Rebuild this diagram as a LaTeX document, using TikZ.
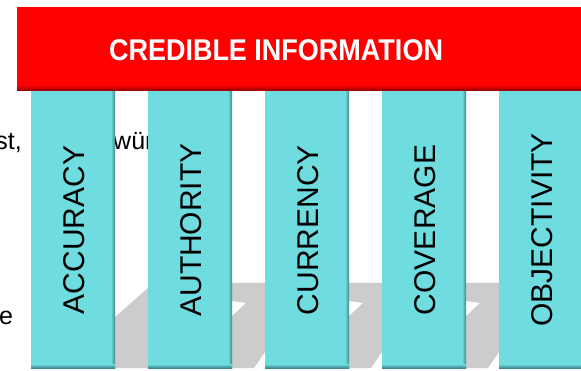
\documentclass[tikz,border=0pt]{standalone}
\usepackage{fontspec}
\setmainfont{Liberation Sans}
\definecolor{bannerred}{RGB}{255,0,0}
\definecolor{pillarcyan}{RGB}{111,220,224}
\definecolor{pillaredge}{RGB}{60,135,140}
\definecolor{shadowgray}{RGB}{204,204,204}
\tikzset{
    pillar/.style={fill=pillarcyan},
    pillarlabel/.style={rotate=90, text=black, font=\fontsize{30}{36}\selectfont},
    backtext/.style={text=black, font=\fontsize{25}{30}\selectfont, inner sep=0pt},
}
\begin{document}
\begin{tikzpicture}[x=1pt, y=-1pt]

    \useasboundingbox (0,0) rectangle (581,371);
    \fill[white] (0,0) rectangle (581,371);

    % slide text behind the pillars
    \node[backtext, anchor=base east] (st) at (22,150) {st,};
    \node[backtext, anchor=base west] (wuer) at (113,150) {wür};
    \node[backtext, anchor=base west] (e) at (-1,325) {e};

    % shadows on the floor
    \fill[shadowgray] (115,317) -- (148,288) -- (148,368) -- (115,368) -- cycle;
    \fill[shadowgray] (232,283) -- (265,283) -- (265,352) -- (254,368) -- (232,368) -- (232,316) -- (246,303) -- (232,301) -- cycle;
    \fill[shadowgray] (349,283) -- (382,283) -- (382,352) -- (371,368) -- (349,368) -- (349,316) -- (363,303) -- (349,301) -- cycle;
    \fill[shadowgray] (466,283) -- (499,283) -- (499,352) -- (488,368) -- (466,368) -- (466,316) -- (480,303) -- (466,301) -- cycle;

    % pillars
    \fill[pillar] (31,91) rectangle (115,368);
    \fill[pillar] (148,91) rectangle (232,368);
    \fill[pillar] (265,91) rectangle (349,368);
    \fill[pillar] (382,91) rectangle (466,368);
    \fill[pillar] (499,91) rectangle (583,368);

    \shade[left color=pillarcyan, right color=pillaredge] (111,91) rectangle (115,368);
    \shade[left color=pillarcyan, right color=pillaredge] (228,91) rectangle (232,368);
    \shade[left color=pillarcyan, right color=pillaredge] (345,91) rectangle (349,368);
    \shade[left color=pillarcyan, right color=pillaredge] (462,91) rectangle (466,368);

    \shade[top color=pillarcyan, bottom color=pillaredge] (31,364) rectangle (115,368);
    \shade[top color=pillarcyan, bottom color=pillaredge] (148,364) rectangle (232,368);
    \shade[top color=pillarcyan, bottom color=pillaredge] (265,364) rectangle (349,368);
    \shade[top color=pillarcyan, bottom color=pillaredge] (382,364) rectangle (466,368);
    \shade[top color=pillarcyan, bottom color=pillaredge] (499,364) rectangle (583,368);

    \node[pillarlabel] (accuracy) at (74,230) {ACCURACY};
    \node[pillarlabel] (authority) at (191,230) {AUTHORITY};
    \node[pillarlabel] (currency) at (308,230) {CURRENCY};
    \node[pillarlabel] (coverage) at (425,230) {COVERAGE};
    \node[pillarlabel] (objectivity) at (542,230) {OBJECTIVITY};

    % banner on top
    \fill[bannerred] (17,7) rectangle (583,91);
    \shade[top color=bannerred, bottom color=bannerred!55!black] (17,85) rectangle (583,91);
    \node[text=white, font=\bfseries\fontsize{30}{36}\selectfont, xscale=0.9] (title) at (276,50) {CREDIBLE INFORMATION};

\end{tikzpicture}
\end{document}
